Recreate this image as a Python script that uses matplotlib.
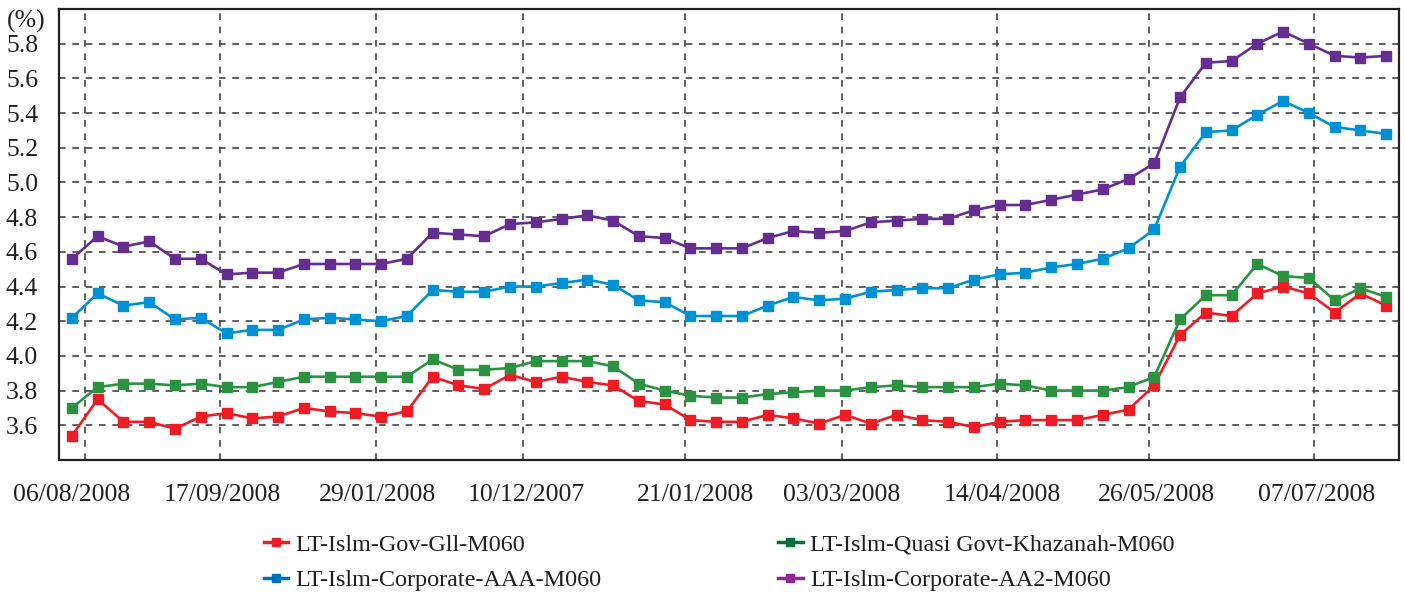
import matplotlib
matplotlib.use("Agg")
import matplotlib.pyplot as plt
from matplotlib.lines import Line2D

plt.rcParams['font.family'] = ['Liberation Serif', 'DejaVu Serif']

# weekly yields (%), 52 observations
gov_gii = [3.54, 3.75, 3.62, 3.62, 3.58, 3.65, 3.67, 3.64, 3.65, 3.70,
           3.68, 3.67, 3.65, 3.68, 3.88, 3.83, 3.81, 3.89, 3.85, 3.88,
           3.85, 3.83, 3.74, 3.72, 3.63, 3.62, 3.62, 3.66, 3.64, 3.61,
           3.66, 3.61, 3.66, 3.63, 3.62, 3.59, 3.62, 3.63, 3.63, 3.63,
           3.66, 3.69, 3.83, 4.12, 4.25, 4.23, 4.36, 4.40, 4.36, 4.25,
           4.36, 4.29]
khazanah = [3.70, 3.82, 3.84, 3.84, 3.83, 3.84, 3.82, 3.82, 3.85, 3.88,
            3.88, 3.88, 3.88, 3.88, 3.98, 3.92, 3.92, 3.93, 3.97, 3.97,
            3.97, 3.94, 3.84, 3.80, 3.77, 3.76, 3.76, 3.78, 3.79, 3.80,
            3.80, 3.82, 3.83, 3.82, 3.82, 3.82, 3.84, 3.83, 3.80, 3.80,
            3.80, 3.82, 3.88, 4.21, 4.35, 4.35, 4.53, 4.46, 4.45, 4.32,
            4.39, 4.34]
corp_aaa = [4.22, 4.36, 4.29, 4.31, 4.21, 4.22, 4.13, 4.15, 4.15, 4.21,
            4.22, 4.21, 4.20, 4.23, 4.38, 4.37, 4.37, 4.40, 4.40, 4.42,
            4.44, 4.41, 4.32, 4.31, 4.23, 4.23, 4.23, 4.29, 4.34, 4.32,
            4.33, 4.37, 4.38, 4.39, 4.39, 4.44, 4.47, 4.48, 4.51, 4.53,
            4.56, 4.62, 4.73, 5.09, 5.29, 5.30, 5.39, 5.47, 5.40, 5.32,
            5.30, 5.28]
corp_aa2 = [4.56, 4.69, 4.63, 4.66, 4.56, 4.56, 4.47, 4.48, 4.48, 4.53,
            4.53, 4.53, 4.53, 4.56, 4.71, 4.70, 4.69, 4.76, 4.77, 4.79,
            4.81, 4.78, 4.69, 4.68, 4.62, 4.62, 4.62, 4.68, 4.72, 4.71,
            4.72, 4.77, 4.78, 4.79, 4.79, 4.84, 4.87, 4.87, 4.90, 4.93,
            4.96, 5.02, 5.11, 5.49, 5.69, 5.70, 5.80, 5.87, 5.80, 5.73,
            5.72, 5.73]

series_names = ['LT-Islm-Gov-Gll-M060', 'LT-Islm-Quasi Govt-Khazanah-M060',
                'LT-Islm-Corporate-AAA-M060', 'LT-Islm-Corporate-AA2-M060']
date_labels = ['06/08/2008', '17/09/2008', '29/01/2008', '10/12/2007',
               '21/01/2008', '03/03/2008', '14/04/2008', '26/05/2008',
               '07/07/2008']

line_colors = ['#ED1C24', '#2B9241', '#0091D5', '#662D91']
legend_colors = ['#ED1C24', '#00703C', '#0072BC', '#92278F']

fig = plt.figure(figsize=(14.05, 5.92), dpi=100)
ax = fig.add_axes([0.042, 0.223, 0.9538, 0.7618])

x = list(range(len(gov_gii)))
all_series = [gov_gii, khazanah, corp_aaa, corp_aa2]
for vals, col in zip(all_series, line_colors):
    ax.plot(x, vals, color=col, lw=1.9, marker='s', ms=7, mec=col, mfc=col)

ax.set_xlim(-0.5, 51.5)
ax.set_ylim(3.4, 6.0)

# vertical gridlines sit at uneven spots, labels roughly under them
grid_pos = [0.52, 5.75, 11.8, 17.5, 23.8, 29.9, 35.9, 41.8, 48.2]
label_pos = [0.0, 5.82, 11.87, 17.65, 24.2, 29.85, 36.1, 42.1, 48.3]
ax.xaxis.remove_overlapping_locs = False
ax.set_xticks(grid_pos)
ax.set_xticklabels([])
ax.set_xticks(label_pos, minor=True)
ax.set_xticklabels(date_labels, minor=True)
ax.tick_params(axis='x', which='both', length=0, pad=17, labelsize=18.5,
               labelcolor='#231F20')
ax.grid(True, axis='x', which='major', ls=(0, (4, 4)), color='#444444', lw=1.2)

ax.set_yticks([3.6, 3.8, 4.0, 4.2, 4.4, 4.6, 4.8, 5.0, 5.2, 5.4, 5.6, 5.8])
ax.yaxis.set_major_formatter(matplotlib.ticker.FormatStrFormatter('%.1f'))
ax.tick_params(axis='y', length=0, pad=15, labelsize=18.5, labelcolor='#231F20')
ax.grid(True, axis='y', ls=(0, (4, 4)), color='#444444', lw=1.2)
ax.set_axisbelow(True)

for s in ax.spines.values():
    s.set_color('#231F20')
    s.set_linewidth(1.6)

fig.text(0.005, 0.963, '(%)', fontsize=18.5, color='#231F20', va='center')

def handle(c):
    return Line2D([], [], color=c, lw=2.5, marker='s', ms=6, mec=c, mfc=c)

legend_kw = dict(loc='upper left', frameon=False, fontsize=17.4,
                 handlelength=1.0, handletextpad=0.3, labelspacing=0.55,
                 borderaxespad=0, borderpad=0, labelcolor='#231F20')
fig.legend([handle(legend_colors[0]), handle(legend_colors[2])],
           [series_names[0], series_names[2]],
           bbox_to_anchor=(0.188, 0.098), **legend_kw)
fig.legend([handle(legend_colors[1]), handle(legend_colors[3])],
           [series_names[1], series_names[3]],
           bbox_to_anchor=(0.554, 0.098), **legend_kw)

fig.savefig('out.png', dpi=100)
